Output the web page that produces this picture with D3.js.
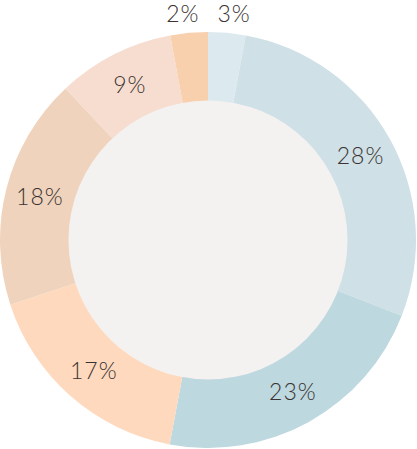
<!DOCTYPE html>
<html>
<head>
<meta charset="utf-8">
<script src="https://cdn.jsdelivr.net/npm/d3@7"></script>
<style>
  html, body { margin: 0; padding: 0; background: #ffffff; }
  svg { display: block; }
</style>
</head>
<body>
<svg id="chart" width="417" height="449"></svg>
<script>
// Slices clockwise from 12 o'clock
const categories = ["A", "B", "C", "D", "E", "F", "G"];
const values = [2.9, 28.0, 22.0, 17.0, 18.0, 9.1, 2.9];
const labels = ["3%", "28%", "23%", "17%", "18%", "9%", "2%"];
const colors = ["#dce9ee", "#cfe0e6", "#bdd8df", "#fed9bd", "#f0d3bd", "#f6ddcf", "#f9d0ae"];

const W = 417, H = 449;
const cx = 208, cy = 240;
const outerR = 208, innerR = 139.5;
const labelR = 174, outsideR = 227;

const svg = d3.select("#chart");
const g = svg.append("g").attr("transform", `translate(${cx},${cy})`);

const data = categories.map((c, i) => ({ cat: c, value: values[i], label: labels[i], color: colors[i] }));

const pie = d3.pie().value(d => d.value).sort(null);
const arcs = pie(data);

const arc = d3.arc().innerRadius(innerR - 1).outerRadius(outerR);
const labelArc = d3.arc().innerRadius(labelR).outerRadius(labelR);

g.selectAll("path.slice")
  .data(arcs)
  .join("path")
  .attr("class", "slice")
  .attr("d", arc)
  .attr("fill", d => d.data.color);

g.append("circle")
  .attr("r", innerR)
  .attr("fill", "#f4f2f1");

const fs = 23;
g.selectAll("text.lbl")
  .data(arcs)
  .join("text")
  .attr("class", "lbl")
  .attr("text-anchor", "middle")
  .attr("font-family", "Lato, 'Open Sans', sans-serif")
  .attr("font-weight", 300)
  .attr("font-size", fs)
  .attr("letter-spacing", 1)
  .attr("fill", "#3a3331")
  .attr("transform", d => {
    const share = d.data.value;
    let x, y;
    if (share < 5) {
      const a = (d.startAngle + d.endAngle) / 2;
      x = Math.sin(a) * outsideR;
      y = -Math.cos(a) * outsideR;
      x += (x >= 0 ? 5 : -5);
    } else {
      [x, y] = labelArc.centroid(d);
    }
    return `translate(${x + 0.5},${y + fs * 0.36})`;
  })
  .text(d => d.data.label);
</script>
</body>
</html>
